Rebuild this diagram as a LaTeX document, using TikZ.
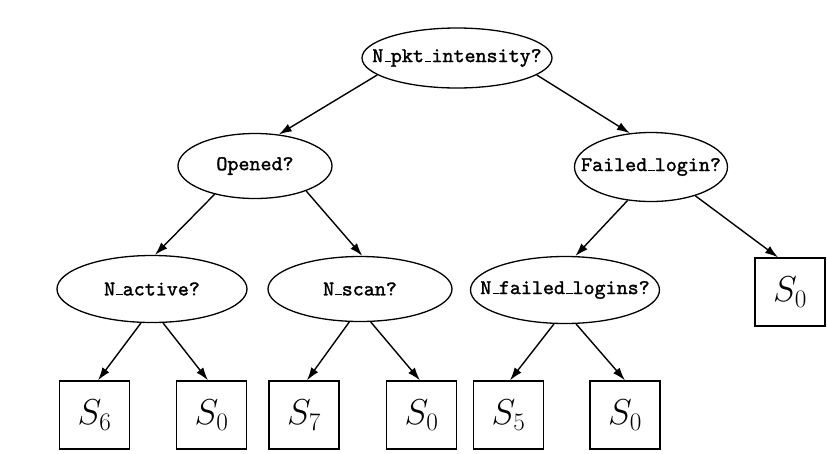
\RequirePackage{fix-cm}
\documentclass[tikz,border=0pt]{standalone}
\usepackage{fontspec}
\usetikzlibrary{shapes.geometric,arrows.meta}
% heavier typewriter face for the test labels
\newfontfamily\testfont{lmmono10-regular.otf}[FakeBold=1.5]
% short typewriter-style underscore bar
\newcommand\ulbar{\leavevmode\kern.06em\vbox{\hrule width.3em height 1.5pt}}
\tikzset{
  test/.style n args={2}{draw, ellipse, line width=1.3pt, inner sep=0pt,
    minimum width=#1, minimum height=#2,
    font=\fontsize{21}{25}\selectfont\testfont},
  leaf/.style={draw, rectangle, line width=1.3pt, inner sep=0pt,
    minimum width=70pt, minimum height=68pt,
    font=\fontsize{36}{42}\selectfont},
  edge/.style={line width=1.4pt, -{Latex[length=13pt,width=8.5pt]}}
}
\begin{document}
\begin{tikzpicture}[x=1pt,y=-1pt]
\useasboundingbox (0,0) rectangle (827,453);
% decision nodes
\node[test={190pt}{60pt}] (root)    at (457,58)  {\makebox[0pt]{N\ulbar pkt\ulbar intensity?}};
\node[test={154pt}{65pt}] (opened)  at (255,166) {\makebox[0pt]{Opened?}};
\node[test={153pt}{69pt}] (failed)  at (651,167) {\makebox[0pt]{Failed\ulbar login?}};
\node[test={190pt}{67pt}] (nactive) at (152,289) {\makebox[0pt]{N\ulbar active?}};
\node[test={184pt}{65pt}] (nscan)   at (360,289) {\makebox[0pt]{N\ulbar scan?}};
\node[test={189pt}{67pt}] (nfailed) at (565,290) {\makebox[0pt]{N\ulbar failed\ulbar logins?}};
% leaf states
\node[leaf] (sA) at (94.5,415)  {$S_6$};
\node[leaf] (sB) at (211.5,415) {$S_0$};
\node[leaf] (sC) at (304,415)   {$S_7$};
\node[leaf] (sD) at (421.5,415) {$S_0$};
\node[leaf] (sE) at (508.5,415) {$S_5$};
\node[leaf] (sF) at (625,415)   {$S_0$};
\node[leaf] (sG) at (790,292)   {$S_0$};
% branches
\draw[edge] (root.192) -- (opened.53);
\draw[edge] (root.-12) -- (failed.122);
\draw[edge] (opened.215) -- (nactive.85);
\draw[edge] (opened.-26) -- (nscan.86);
\draw[edge] (failed.235) -- (nfailed.73);
\draw[edge] (failed.-33) -- ([xshift=-12pt]sG.north);
\draw[edge] (nactive.-108) -- ([xshift=3.5pt]sA.north);
\draw[edge] (nactive.-72) -- ([xshift=-3.5pt]sB.north);
\draw[edge] (nscan.-108) -- ([xshift=3pt]sC.north);
\draw[edge] (nscan.-72) -- ([xshift=-1.5pt]sD.north);
\draw[edge] (nfailed.-108) -- ([xshift=1.5pt]sE.north);
\draw[edge] (nfailed.-72) -- (sF.north);
\end{tikzpicture}
\end{document}
